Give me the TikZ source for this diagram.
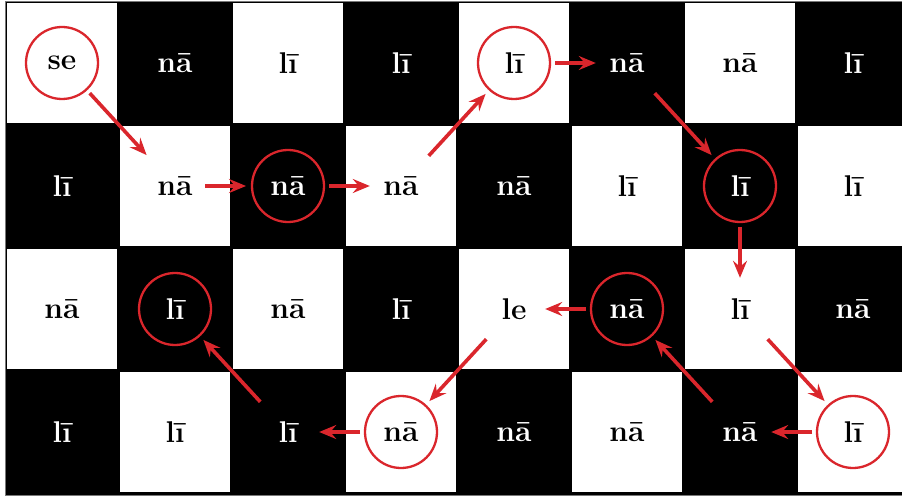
\documentclass[tikz,border=0pt]{standalone}
\usetikzlibrary{arrows.meta}
\definecolor{pathred}{RGB}{218,38,44}
\definecolor{boardedge}{RGB}{120,120,120}
\tikzset{
  word/.style={
    font=\bfseries\fontsize{30}{36}\selectfont,
    minimum width=60pt,
    minimum height=60pt,
    inner sep=0pt
  },
  onwhite/.style={word, text=black},
  onblack/.style={word, text=white},
  ringed/.style={
    circle,
    draw=pathred,
    line width=2.3pt,
    minimum size=72pt,
    outer sep=5pt
  },
  hop/.style={
    draw=pathred,
    line width=3.6pt,
    -{Stealth[length=17pt,width=14pt,inset=6pt]},
    shorten >=1pt
  }
}

\begin{document}
\begin{tikzpicture}[x=1pt,y=-1pt]
\clip (0,0) rectangle (902,497);
% board
\fill[black] (5,1) rectangle (920,495);
\draw[boardedge,line width=0.8pt] (5,1) rectangle (920,495);
\foreach \c in {0,...,7}{
  \foreach \r in {0,...,3}{
    \pgfmathtruncatemacro{\cellparity}{mod(\c+\r,2)}
    \ifnum\cellparity=0
      \fill[white] (7+113*\c,3+123*\r) rectangle ++(110,120);
    \fi
  }
}
% row 0
\node[onwhite,ringed] (w00) at (62,63) {se};
\node[onblack] (w01) at (175,63) {nā};
\node[onwhite] (w02) at (288,63) {lī};
\node[onblack] (w03) at (401,63) {lī};
\node[onwhite,ringed] (w04) at (514,63) {lī};
\node[onblack] (w05) at (627,63) {nā};
\node[onwhite] (w06) at (740,63) {nā};
\node[onblack] (w07) at (853,63) {lī};
% row 1
\node[onblack] (w10) at (62,186) {lī};
\node[onwhite] (w11) at (175,186) {nā};
\node[onblack,ringed] (w12) at (288,186) {nā};
\node[onwhite] (w13) at (401,186) {nā};
\node[onblack] (w14) at (514,186) {nā};
\node[onwhite] (w15) at (627,186) {lī};
\node[onblack,ringed] (w16) at (740,186) {lī};
\node[onwhite] (w17) at (853,186) {lī};
% row 2
\node[onwhite] (w20) at (62,309) {nā};
\node[onblack,ringed] (w21) at (175,309) {lī};
\node[onwhite] (w22) at (288,309) {nā};
\node[onblack] (w23) at (401,309) {lī};
\node[onwhite] (w24) at (514,309) {le};
\node[onblack,ringed] (w25) at (627,309) {nā};
\node[onwhite] (w26) at (740,309) {lī};
\node[onblack] (w27) at (853,309) {nā};
% row 3
\node[onblack] (w30) at (62,432) {lī};
\node[onwhite] (w31) at (175,432) {lī};
\node[onblack] (w32) at (288,432) {lī};
\node[onwhite,ringed] (w33) at (401,432) {nā};
\node[onblack] (w34) at (514,432) {nā};
\node[onwhite] (w35) at (627,432) {nā};
\node[onblack] (w36) at (740,432) {nā};
\node[onwhite,ringed] (w37) at (853,432) {lī};

% path through the board
\draw[hop] (w00) -- (w11);
\draw[hop] (w11) -- (w12);
\draw[hop] (w12) -- (w13);
\draw[hop] (w13) -- (w04);
\draw[hop] (w04) -- (w05);
\draw[hop] (w05) -- (w16);
\draw[hop] (w16) -- (w26);
\draw[hop] (w26) -- (w37);
\draw[hop] (w37) -- (w36);
\draw[hop] (w36) -- (w25);
\draw[hop] (w25) -- (w24);
\draw[hop] (w24) -- (w33);
\draw[hop] (w33) -- (w32);
\draw[hop] (w32) -- (w21);
\end{tikzpicture}
\end{document}
